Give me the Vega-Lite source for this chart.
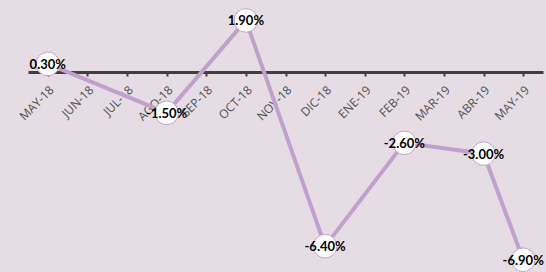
{
  "$schema": "https://vega.github.io/schema/vega-lite/v6.json",
  "width": 515,
  "height": 272,
  "autosize": {"type": "none"},
  "padding": {"left": 28, "top": 0, "right": 3, "bottom": 0},
  "background": "#E6DDE4",
  "config": {"view": {"stroke": null}},
  "data": {
    "values": [
      {"month": "MAY-18", "value": 0.30, "label": "0.30%"},
      {"month": "AGO-18", "value": -1.50, "label": "-1.50%"},
      {"month": "OCT-18", "value": 1.90, "label": "1.90%"},
      {"month": "DIC-18", "value": -6.40, "label": "-6.40%"},
      {"month": "FEB-19", "value": -2.60, "label": "-2.60%"},
      {"month": "ABR-19", "value": -3.00, "label": "-3.00%"},
      {"month": "MAY-19", "value": -6.90, "label": "-6.90%"}
    ]
  },
  "encoding": {
    "x": {
      "field": "month",
      "type": "nominal",
      "sort": null,
      "scale": {
        "domain": ["MAY-18", "JUN-18", "JUL-18", "AGO-18", "SEP-18", "OCT-18", "NOV-18", "DIC-18", "ENE-19", "FEB-19", "MAR-19", "ABR-19", "MAY-19"],
        "paddingInner": 0,
        "paddingOuter": 0
      },
      "axis": {
        "title": null,
        "orient": "bottom",
        "offset": -200,
        "labelAngle": -45,
        "labelFont": "Open Sans",
        "labelFontSize": 12,
        "labelColor": "#505050",
        "labelPadding": 8,
        "domainColor": "#404040",
        "domainWidth": 3,
        "tickColor": "#404040",
        "tickWidth": 2,
        "tickSize": 4,
        "bandPosition": 0
      }
    },
    "y": {
      "field": "value",
      "type": "quantitative",
      "scale": {"domain": [-7.35, 2.65], "nice": false, "zero": false},
      "axis": null
    }
  },
  "layer": [
    {"mark": {"type": "line", "color": "#C0A1CC", "strokeWidth": 4}},
    {"mark": {"type": "point", "shape": "circle", "filled": true, "fill": "#FFFFFF", "stroke": "#BFA2CB", "strokeWidth": 1, "size": 560, "opacity": 1}},
    {
      "mark": {"type": "text", "font": "Lato", "fontWeight": "bold", "fontSize": 13, "color": "#000000", "dy": 1},
      "encoding": {"text": {"field": "label", "type": "nominal"}}
    }
  ]
}
